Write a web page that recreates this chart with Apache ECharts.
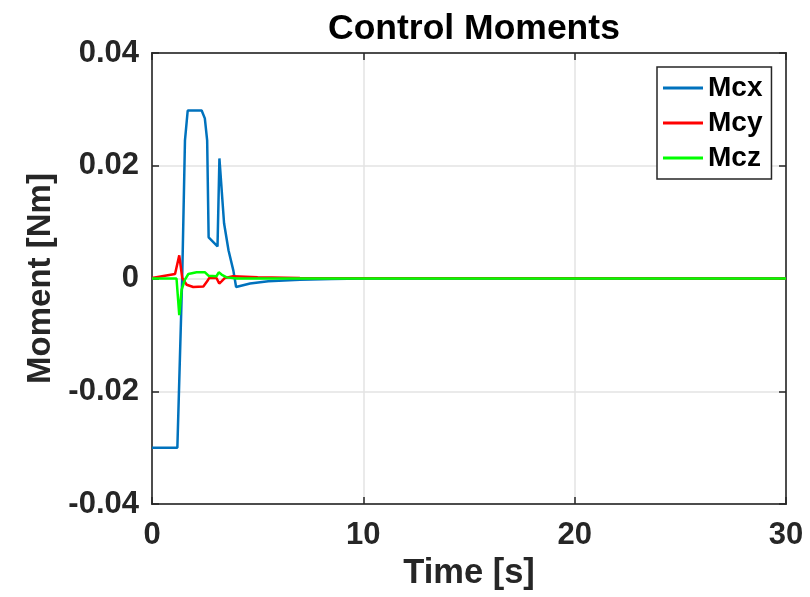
<!DOCTYPE html>
<html>
<head>
<meta charset="utf-8">
<script src="https://cdn.jsdelivr.net/npm/echarts@6/dist/echarts.min.js"></script>
<style>
    html, body {margin: 0; padding: 0; background: #fff;}
    #chart {width: 810px; height: 597px;}
</style>
</head>
<body>
<div id="chart"></div>
<script>
    // values
    var mcxTime = [0, 1.20, 1.43, 1.56, 1.69, 2.35, 2.50, 2.61, 2.68, 3.10, 3.19, 3.41, 3.62, 3.85, 3.98, 4.64, 5.5, 7.0, 8.5, 10, 30];
    var mcxValues = [-0.0300, -0.0300, 0.0003, 0.0245, 0.0298, 0.0298, 0.0284, 0.0245, 0.0073, 0.0057, 0.0213, 0.0098, 0.0050, 0.0014, -0.0015, -0.0009, -0.0005, -0.0002, -0.0001, 0, 0];
    var mcyTime = [0, 1.09, 1.29, 1.43, 1.64, 1.95, 2.43, 2.61, 2.71, 3.05, 3.18, 3.29, 3.45, 3.84, 5, 7, 30];
    var mcyValues = [0.0001, 0.0008, 0.0041, 0.0001, -0.0011, -0.0015, -0.0014, -0.0005, 0.0001, 0.0001, -0.0009, -0.0005, 0.0001, 0.0004, 0.0002, 0.0001, 0];
    var mczTime = [0, 1.16, 1.29, 1.40, 1.56, 1.72, 2.11, 2.51, 2.67, 3.05, 3.16, 3.29, 3.53, 4.0, 30];
    var mczValues = [0, 0, -0.0065, -0.0020, -0.0002, 0.0008, 0.0011, 0.0011, 0.0005, 0.0004, 0.0011, 0.0007, 0.0002, 0, 0];
    var seriesNames = ['Mcx', 'Mcy', 'Mcz'];
    var seriesColors = ['#0072BD', '#FF0000', '#00FF00'];

    function pairs(t, v) {
        return t.map(function (x, i) { return [x, v[i]]; });
    }

    var font = '"Liberation Sans", Arial, Helvetica, sans-serif';
    var axisColor = '#262626';
    var gridColor = '#e3e3e3';

    // box axes (top / right) only carry ticks, like a matlab "box on"
    function boxAxis(position, min, max, interval) {
        return {
            type: 'value',
            position: position,
            min: min,
            max: max,
            interval: interval,
            axisLine: {onZero: false, lineStyle: {color: axisColor, width: 1.5}},
            axisTick: {inside: true, length: 7, lineStyle: {color: axisColor, width: 1.5}},
            axisLabel: {show: false},
            splitLine: {show: false}
        };
    }

    var chart = echarts.init(document.getElementById('chart'), null, {renderer: 'canvas'});
    var lines = [pairs(mcxTime, mcxValues), pairs(mcyTime, mcyValues), pairs(mczTime, mczValues)];

    chart.setOption({
        backgroundColor: '#fff',
        animation: false,
        title: {
            text: 'Control Moments',
            left: 323,
            top: 6,
            textStyle: {fontFamily: font, fontWeight: 'bold', fontSize: 35.5, color: '#000'}
        },
        legend: {
            data: seriesNames,
            orient: 'vertical',
            left: 657,
            top: 67,
            padding: [7, 9, 7, 6],
            itemGap: 7,
            itemWidth: 40,
            itemHeight: 3,
            icon: 'rect',
            backgroundColor: '#fff',
            borderColor: axisColor,
            borderWidth: 1.5,
            textStyle: {fontFamily: font, fontWeight: 'bold', fontSize: 28, color: '#000'}
        },
        grid: {
            left: 152,
            right: 24,
            top: 53,
            bottom: 93,
            show: true,
            borderColor: axisColor,
            borderWidth: 1.5,
            backgroundColor: 'transparent'
        },
        xAxis: [{
            type: 'value',
            min: 0,
            max: 30,
            interval: 10,
            name: 'Time [s]',
            nameLocation: 'middle',
            nameGap: 51,
            nameTextStyle: {fontFamily: font, fontWeight: 'bold', fontSize: 34.5, color: '#262626'},
            axisLine: {onZero: false, lineStyle: {color: axisColor, width: 1.5}},
            axisTick: {inside: true, length: 7, lineStyle: {color: axisColor, width: 1.5}},
            axisLabel: {margin: 16, fontFamily: font, fontWeight: 'bold', fontSize: 31, color: '#262626'},
            splitLine: {show: true, lineStyle: {color: gridColor, width: 1.5}}
        }, boxAxis('top', 0, 30, 10)],
        yAxis: [{
            type: 'value',
            min: -0.04,
            max: 0.04,
            interval: 0.02,
            name: 'Moment [Nm]',
            nameLocation: 'middle',
            nameGap: 93,
            nameTextStyle: {fontFamily: font, fontWeight: 'bold', fontSize: 33, color: '#262626'},
            axisLine: {onZero: false, lineStyle: {color: axisColor, width: 1.5}},
            axisTick: {inside: true, length: 7, lineStyle: {color: axisColor, width: 1.5}},
            axisLabel: {
                margin: 13, fontFamily: font, fontWeight: 'bold', fontSize: 31, color: '#262626',
                formatter: function (v) { return +v.toFixed(2) + ''; }
            },
            splitLine: {show: true, lineStyle: {color: gridColor, width: 1.5}}
        }, boxAxis('right', -0.04, 0.04, 0.02)],
        series: seriesNames.map(function (name, i) {
            return {
                name: name,
                type: 'line',
                data: lines[i],
                showSymbol: false,
                color: seriesColors[i],
                lineStyle: {width: 2.5, color: seriesColors[i]},
                z: 2 + i
            };
        })
    });
</script>
</body>
</html>
